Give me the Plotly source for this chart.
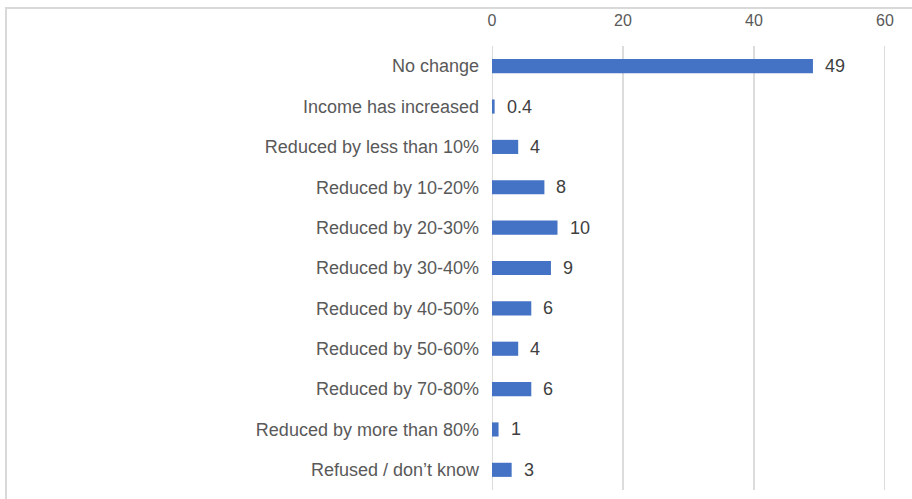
import plotly.graph_objects as go

categories = [
    "No change",
    "Income has increased",
    "Reduced by less than 10%",
    "Reduced by 10-20%",
    "Reduced by 20-30%",
    "Reduced by 30-40%",
    "Reduced by 40-50%",
    "Reduced by 50-60%",
    "Reduced by 70-80%",
    "Reduced by more than 80%",
    "Refused / don\u2019t know",
]
values = [49, 0.4, 4, 8, 10, 9, 6, 4, 6, 1, 3]
value_labels = ["49", "0.4", "4", "8", "10", "9", "6", "4", "6", "1", "3"]
x_ticks = [0, 20, 40, 60]

FONT = "Liberation Sans, Arial, sans-serif"
GRID = "#dcdcdc"

fig = go.Figure()
fig.add_trace(go.Bar(
    x=values,
    y=categories,
    orientation="h",
    width=0.35,
    marker=dict(color="#4472C4", line=dict(width=0)),
    hoverinfo="skip",
))

for v, c, t in zip(values, categories, value_labels):
    fig.add_annotation(
        x=v, y=c, text=t, showarrow=False,
        xanchor="left", yanchor="middle", xshift=10,
        font=dict(family=FONT, size=18, color="#404040"),
    )

PW, PH = 393, 444
fig.update_layout(
    width=912,
    height=499,
    margin=dict(l=492, r=27, t=46, b=9),
    paper_bgcolor="white",
    plot_bgcolor="white",
    showlegend=False,
    xaxis=dict(
        side="top",
        range=[0, 60],
        tickvals=x_ticks,
        ticktext=[str(v) for v in x_ticks],
        showgrid=True,
        gridcolor=GRID,
        gridwidth=2,
        zeroline=False,
        showline=False,
        ticks="",
        ticklabelstandoff=16,
        tickfont=dict(family=FONT, size=16, color="#595959"),
        fixedrange=True,
    ),
    yaxis=dict(
        autorange="reversed",
        showgrid=False,
        zeroline=False,
        showline=False,
        ticks="",
        ticklabelstandoff=12,
        tickfont=dict(family=FONT, size=18, color="#595959"),
        fixedrange=True,
    ),
    shapes=[
        dict(
            type="rect", xref="paper", yref="paper",
            x0=(6 - 492) / PW, x1=1.5, y0=-0.5, y1=1 + (46 - 8) / PH,
            line=dict(color="#d9d9d9", width=2),
            fillcolor="rgba(0,0,0,0)", layer="below",
        ),
        dict(
            type="line", xref="x", yref="paper",
            x0=x_ticks[0], x1=x_ticks[0], y0=0, y1=1,
            line=dict(color=GRID, width=2), layer="below",
        ),
        dict(
            type="line", xref="x", yref="paper",
            x0=x_ticks[-1], x1=x_ticks[-1], y0=0, y1=1,
            line=dict(color=GRID, width=2), layer="below",
        ),
    ],
)

fig.write_html(
    "out.html",
    config={"displayModeBar": False},
    post_script="document.body.style.margin='0';document.body.style.padding='0';",
)
